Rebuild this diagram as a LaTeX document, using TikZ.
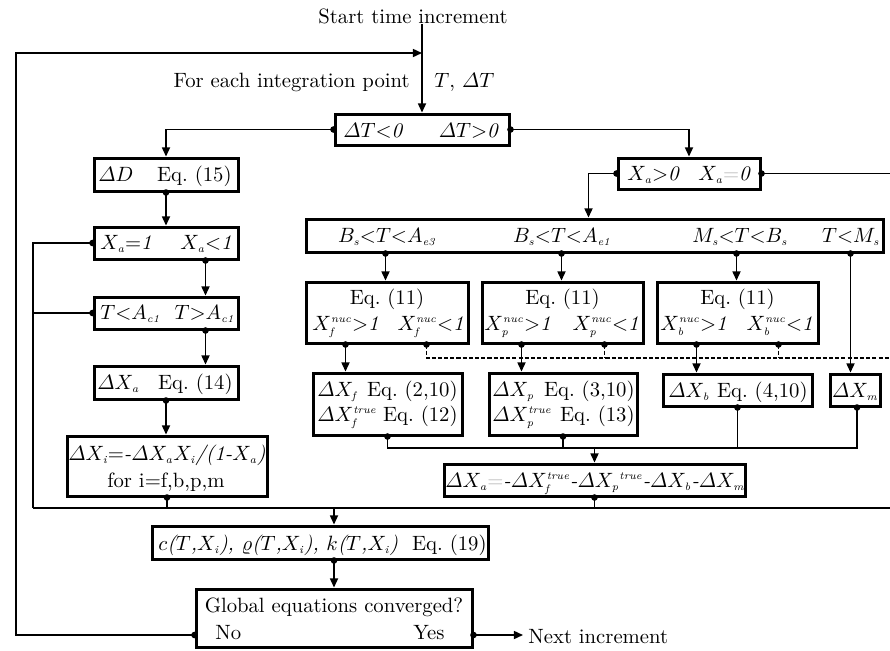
\documentclass[tikz,border=0pt]{standalone}
\usepackage{amsmath}
\usetikzlibrary{arrows.meta,calc}
\newcommand{\mi}[1]{\mathit{#1}}
\newcommand{\ti}[1]{\textit{#1}}
\newcommand{\sx}[1]{\mbox{\fontsize{5.2}{6}\selectfont\itshape #1}}
\newcommand{\gq}{{\color{gray!55}{=}}}
\begin{document}
\begin{tikzpicture}[x=0.4833pt,y=-0.4833pt,
 box/.style 2 args={draw, line width=1.45pt, inner sep=0pt, minimum width=#1*0.4833pt, minimum height=#2*0.4833pt},
 conn/.style={line width=0.72pt},
 arr/.style={conn,-{Triangle[length=4.4pt,width=3.9pt]}},
 dsh/.style={conn, dash pattern=on 2pt off 1pt},
 tl/.style={inner sep=0pt, anchor=base west},
 tr/.style={inner sep=0pt, anchor=base east},
 tc/.style={inner sep=0pt, anchor=base},
 dotf/.style={fill=black}
]
\clip (0,0) rectangle (890,651);
% boxes
\node[box={174}{31}] (dT) at (422,129.5) {};
\node[box={144}{33}] (dD) at (166,174.5) {};
\node[box={144}{32}] (Xa1) at (166,243) {};
\node[box={144}{32}] (TAc) at (166,313) {};
\node[box={144}{33}] (dXa) at (166,382.5) {};
\node[box={200}{60}] (dXi) at (167,466) {};
\node[box={142}{31}] (Xa0) at (689,173.5) {};
\node[box={577}{33}] (Bs) at (594.5,235.5) {};
\node[box={162}{61}] (Ef) at (387,312.5) {};
\node[box={161}{61}] (Ep) at (562.5,312.5) {};
\node[box={161}{61}] (Eb) at (737.5,312.5) {};
\node[box={149}{62}] (dXf) at (387.5,404) {};
\node[box={148}{62}] (dXp) at (563,404) {};
\node[box={149}{32}] (dXb) at (737.5,390) {};
\node[box={50}{32}] (dXm) at (855,390) {};
\node[box={301}{32}] (sum) at (594.5,480) {};
\node[box={336}{33}] (cb) at (320,542.5) {};
\node[box={276}{58}] (gl) at (334,618) {};
% texts
\node[tc] (tstart) at (413,23) {Start time increment};
\node[tr] (tfor) at (410,87) {For each integration point};
\node[tl] (tT) at (434,87) {$T$, $\varDelta T$};
\node[tl] (tdT1) at (343,137) {$\varDelta T{<}\mi{0}$};
\node[tr] (tdT2) at (501,137) {$\varDelta T{>}\mi{0}$};
\node[tl] (tdD1) at (98,181) {$\varDelta D$};
\node[tr] (tdD2) at (232,181) {Eq.~(15)};
\node[tl] (tXa1a) at (100,249) {$X_{\sx{a}}{=}\mi{1}$};
\node[tr] (tXa1b) at (235,249) {$X_{\sx{a}}{<}\mi{1}$};
\node[tl] (tTAa) at (100,319) {$T{<}A_{\sx{c1}}$};
\node[tr] (tTAb) at (235,319) {$T{>}A_{\sx{c1}}$};
\node[tl] (tdXa1) at (97,389) {$\varDelta X_{\sx{a}}$};
\node[tr] (tdXa2) at (233,389) {Eq.~(14)};
\node[tc] (tdXi1) at (167,460) {$\varDelta X_{\sx{i}}{=}\ti{-}\varDelta X_{\sx{a}}X_{\sx{i}}\ti{/(1-}X_{\sx{a}}\ti{)}$};
\node[tc] (tdXi2) at (166,487) {for i=f,b,p,m};
\node[tl] (tXa0a) at (627,180) {$X_{\sx{a}}{>}\mi{0}$};
\node[tr] (tXa0b) at (753,180) {$X_{\sx{a}}\gq\mi{0}$};
\node[tc] (tBs1) at (387,242) {$B_{\sx{s}}{<}T{<}A_{\sx{e3}}$};
\node[tc] (tBs2) at (562,242) {$B_{\sx{s}}{<}T{<}A_{\sx{e1}}$};
\node[tc] (tBs3) at (740,242) {$M_{\sx{s}}{<}T{<}B_{\sx{s}}$};
\node[tr] (tBs4) at (880,242) {$T{<}M_{\sx{s}}$};
\node[tc] (tEf1) at (387,304) {Eq.~(11)};
\node[tl] (tEf2) at (312,330) {$X_{\sx{f}}^{\sx{nuc}}{>}\mi{1}$};
\node[tr] (tEf3) at (467,330) {$X_{\sx{f}}^{\sx{nuc}}{<}\mi{1}$};
\node[tc] (tEp1) at (562.5,304) {Eq.~(11)};
\node[tl] (tEp2) at (484,330) {$X_{\sx{p}}^{\sx{nuc}}{>}\mi{1}$};
\node[tr] (tEp3) at (642,330) {$X_{\sx{p}}^{\sx{nuc}}{<}\mi{1}$};
\node[tc] (tEb1) at (737.5,304) {Eq.~(11)};
\node[tl] (tEb2) at (660,330) {$X_{\sx{b}}^{\sx{nuc}}{>}\mi{1}$};
\node[tr] (tEb3) at (816,330) {$X_{\sx{b}}^{\sx{nuc}}{<}\mi{1}$};
\node[tl] (tdXf1) at (317,396) {$\varDelta X_{\sx{f}}$};
\node[tr] (tdXf2) at (458,396) {Eq.~(2,10)};
\node[tl] (tdXf3) at (317,421) {$\varDelta X_{\sx{f}}^{\sx{true}}$};
\node[tr] (tdXf4) at (458,421) {Eq.~(12)};
\node[tl] (tdXp1) at (492,396) {$\varDelta X_{\sx{p}}$};
\node[tr] (tdXp2) at (635,396) {Eq.~(3,10)};
\node[tl] (tdXp3) at (492,421) {$\varDelta X_{\sx{p}}^{\sx{true}}$};
\node[tr] (tdXp4) at (635,421) {Eq.~(13)};
\node[tl] (tdXb1) at (668,397) {$\varDelta X_{\sx{b}}$};
\node[tr] (tdXb2) at (808,397) {Eq.~(4,10)};
\node[tc] (tdXm) at (855,397) {$\varDelta X_{\sx{m}}$};
\node[tc] (tsum) at (595,487) {$\varDelta X_{\sx{a}}\gq\ti{-}\varDelta X_{\sx{f}}^{\sx{true}}\ti{-}\varDelta X_{\sx{p}}{}^{\sx{true}}\ti{-}\varDelta X_{\sx{b}}\ti{-}\varDelta X_{\sx{m}}$};
\node[tl] (tcb1) at (158,550) {$c\ti{(}T\ti{,}X_{\sx{i}}\ti{), }\varrho\ti{(}T\ti{,}X_{\sx{i}}\ti{), }k\ti{(}T\ti{,}X_{\sx{i}}\ti{)}$};
\node[tr] (tcb2) at (487,550) {Eq.~(19)};
\node[tc] (tgl) at (334,612) {Global equations converged?};
\node[tl] (tno) at (215,639) {No};
\node[tr] (tyes) at (445,639) {Yes};
\node[tl] (tnext) at (528,643) {Next increment};
% coordinates
\coordinate (lp) at (16,53);
\coordinate (lx) at (33,508);
\coordinate (rx) at (895,508);
\coordinate (re) at (895,173.5);
\coordinate (dr) at (895,358);
\coordinate (cl) at (0,448);
\coordinate (nxt) at (523,635);
\coordinate (gNo) at ($(gl.west)+(0,17)$);
\coordinate (gYes) at ($(gl.east)+(0,17)$);
\coordinate (xa1b) at ($(Xa1.south west)+(113,0)$);
\coordinate (tacb) at ($(TAc.south west)+(113,0)$);
\coordinate (cbot) at (gl.north |- cb.south);
\coordinate (bsa) at ($(Bs.north west)+(284,0)$);
\coordinate (bs1) at ($(Bs.south west)+(81,0)$);
\coordinate (bs2) at ($(Bs.south west)+(257,0)$);
\coordinate (bs3) at ($(Bs.south west)+(432,0)$);
\coordinate (bs4) at ($(Bs.south west)+(546,0)$);
\coordinate (efa) at ($(Ef.south west)+(41,0)$);
\coordinate (efb) at ($(Ef.south west)+(122,0)$);
\coordinate (epa) at ($(Ep.south west)+(41,0)$);
\coordinate (epb) at ($(Ep.south west)+(124,0)$);
\coordinate (eba) at ($(Eb.south west)+(41,0)$);
\coordinate (ebb) at ($(Eb.south west)+(123,0)$);
\coordinate (dXmb) at ($(dXm.south)+(2,0)$);
% connectors
\draw[arr] (tstart.south -| dT.north) -- (dT.north);
\draw[arr] (gNo) -- (gNo -| lp) -- (lp) -- (lp -| dT.north);
\draw[arr] (dT.west) -| (dD.north);
\draw[arr] (dD.south) -- (Xa1.north);
\draw[conn] (Xa1.west) -| (lx);
\draw[conn] (TAc.west) -- (TAc.west -| lx);
\draw[arr] (xa1b) -- (xa1b |- TAc.north);
\draw[arr] (tacb) -- (tacb |- dXa.north);
\draw[arr] (dXa.south) -- (dXa.south |- dXi.north);
\draw[conn] (dXi.south) -- (dXi.south |- lx);
\draw[conn] (lx) -- (rx);
\draw[arr] (gl.north |- lx) -- (gl.north |- cb.north);
\draw[arr] (cbot) -- (gl.north);
\draw[arr] (gYes) -- (nxt);
\draw[arr] (dT.east) -| (Xa0.north);
\draw[arr] (Xa0.west) -| (bsa);
\draw[conn] (Xa0.east) -- (re);
\draw[arr] (bs1) -- (bs1 |- Ef.north);
\draw[arr] (bs2) -- (bs2 |- Ep.north);
\draw[arr] (bs3) -- (bs3 |- Eb.north);
\draw[arr] (bs4) -- (bs4 |- dXm.north);
\draw[dsh] (efb) -- (efb |- dr) -- (dr);
\draw[dsh] (epb) -- (epb |- dr);
\draw[dsh] (ebb) -- (ebb |- dr);
\draw[arr] (efa) -- (efa |- dXf.north);
\draw[arr] (epa) -- (epa |- dXp.north);
\draw[arr] (eba) -- (eba |- dXb.north);
\draw[conn] (dXf.south) -- (dXf.south |- cl) -- (dXmb |- cl) -- (dXmb);
\draw[conn] (dXp.south) -- (dXp.south |- cl);
\draw[conn] (dXb.south) -- (dXb.south |- cl);
\draw[arr] (sum.north |- cl) -- (sum.north);
\draw[conn] (sum.south) -- (sum.south |- lx);
% dots
\foreach \p in {dT.west,dT.east,dD.south,Xa1.west,xa1b,TAc.west,tacb,dXa.south,dXi.south,cbot,gNo,gYes,Xa0.west,Xa0.east,bs1,bs2,bs3,bs4,efa,efb,epa,epb,eba,ebb,dXf.south,dXp.south,dXb.south,dXmb,sum.south}
  \fill[dotf] (\p) circle[radius=1.6pt];
\end{tikzpicture}
\end{document}
